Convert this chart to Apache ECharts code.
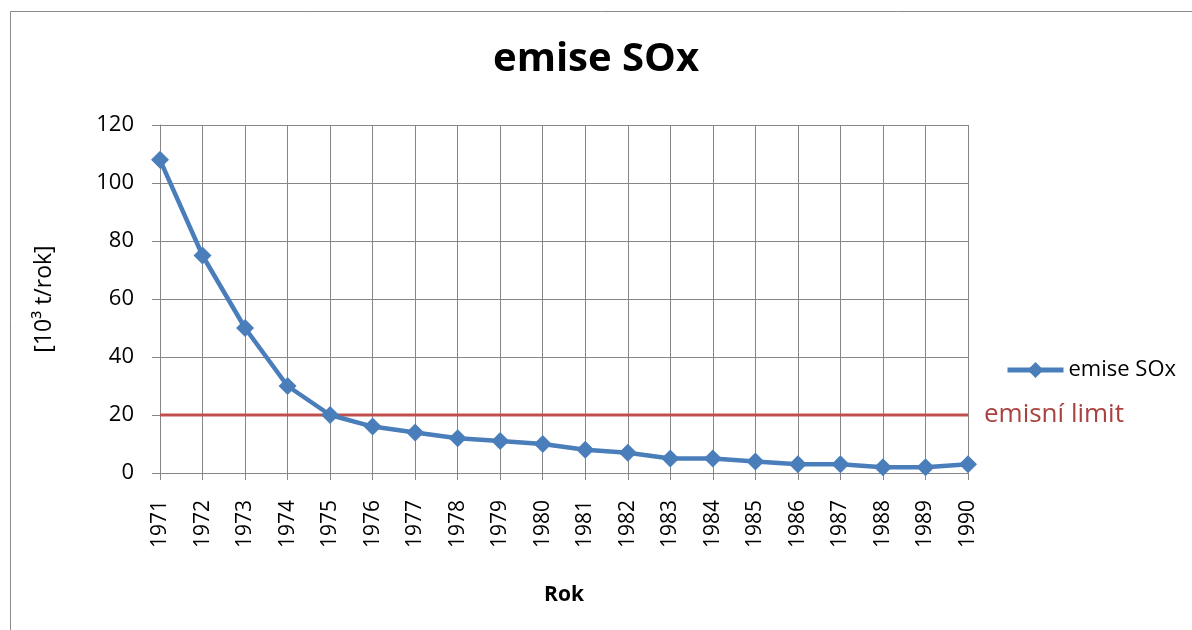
<!DOCTYPE html>
<html>
<head>
<meta charset="utf-8">
<script src="https://cdn.jsdelivr.net/npm/echarts@6/dist/echarts.min.js"></script>
<style>
html,body{margin:0;padding:0;background:#fff;}
#chart{width:1192px;height:630px;}
</style>
</head>
<body>
<div id="chart"></div>
<script>
const years = ['1971','1972','1973','1974','1975','1976','1977','1978','1979','1980','1981','1982','1983','1984','1985','1986','1987','1988','1989','1990'];
const emiseSOx = [108, 75, 50, 30, 20, 16, 14, 12, 11, 10, 8, 7, 5, 5, 4, 3, 3, 2, 2, 3];
const emisniLimit = [20, 20, 20, 20, 20, 20, 20, 20, 20, 20, 20, 20, 20, 20, 20, 20, 20, 20, 20, 20];
const titleText = 'emise SOx';
const xName = 'Rok';
const yName = '[10³ t/rok]';
const limitLabel = 'emisní limit';

const FONT = '"Open Sans", "Noto Sans", sans-serif';
const GRID = '#868686';
const chart = echarts.init(document.getElementById('chart'), null, {renderer: 'canvas'});
chart.setOption({
  animation: false,
  backgroundColor: '#ffffff',
  graphic: [{
    type: 'rect',
    shape: {x: 10.5, y: 11.5, width: 1300, height: 800},
    style: {fill: 'none', stroke: '#8a8a8a', lineWidth: 1},
    silent: true
  }],
  title: {
    text: titleText,
    left: 'center',
    top: 35,
    textStyle: {fontFamily: FONT, fontWeight: 'bold', fontSize: 40, color: '#000'}
  },
  legend: {
    data: ['emise SOx'],
    orient: 'vertical',
    left: 1000,
    top: 354,
    itemWidth: 56,
    itemHeight: 20,
    itemGap: 6,
    lineStyle: {width: 5},
    textStyle: {fontFamily: FONT, fontSize: 22, color: '#000'}
  },
  grid: {left: 160, right: 224, top: 125, bottom: 157, containLabel: false},
  xAxis: {
    type: 'category',
    data: years,
    boundaryGap: false,
    name: xName,
    nameLocation: 'middle',
    nameGap: 112,
    nameTextStyle: {fontFamily: FONT, fontWeight: 'bold', fontSize: 21, color: '#000'},
    axisLine: {lineStyle: {color: GRID, width: 1}},
    axisTick: {show: true, length: 7, inside: false, alignWithLabel: true, interval: 0, lineStyle: {color: GRID}},
    axisLabel: {rotate: 90, interval: 0, margin: 27, fontFamily: FONT, fontSize: 21, color: '#000'},
    splitLine: {show: true, interval: 0, lineStyle: {color: GRID, width: 1}}
  },
  yAxis: {
    type: 'value',
    min: 0,
    max: 120,
    interval: 20,
    name: yName,
    nameLocation: 'middle',
    nameGap: 104,
    nameTextStyle: {fontFamily: FONT, fontSize: 23, color: '#000'},
    axisLine: {show: true, lineStyle: {color: GRID, width: 1}},
    axisTick: {show: true, length: 8, lineStyle: {color: GRID}},
    axisLabel: {margin: 26, fontFamily: FONT, fontSize: 22, color: '#000'},
    splitLine: {show: true, lineStyle: {color: GRID, width: 1}}
  },
  series: [
    {
      name: 'emisní limit',
      type: 'line',
      data: emisniLimit,
      showSymbol: false,
      symbol: 'none',
      lineStyle: {color: '#C0504D', width: 3},
      itemStyle: {color: '#C0504D'},
      endLabel: {
        show: true,
        formatter: limitLabel,
        distance: 16,
        fontFamily: FONT,
        fontSize: 26,
        color: '#A9423F'
      },
      z: 2
    },
    {
      name: 'emise SOx',
      type: 'line',
      data: emiseSOx,
      symbol: 'diamond',
      symbolSize: 18,
      lineStyle: {color: '#4A7EBB', width: 4.5},
      itemStyle: {color: '#4A7EBB'},
      z: 3
    }
  ]
});
</script>
</body>
</html>
